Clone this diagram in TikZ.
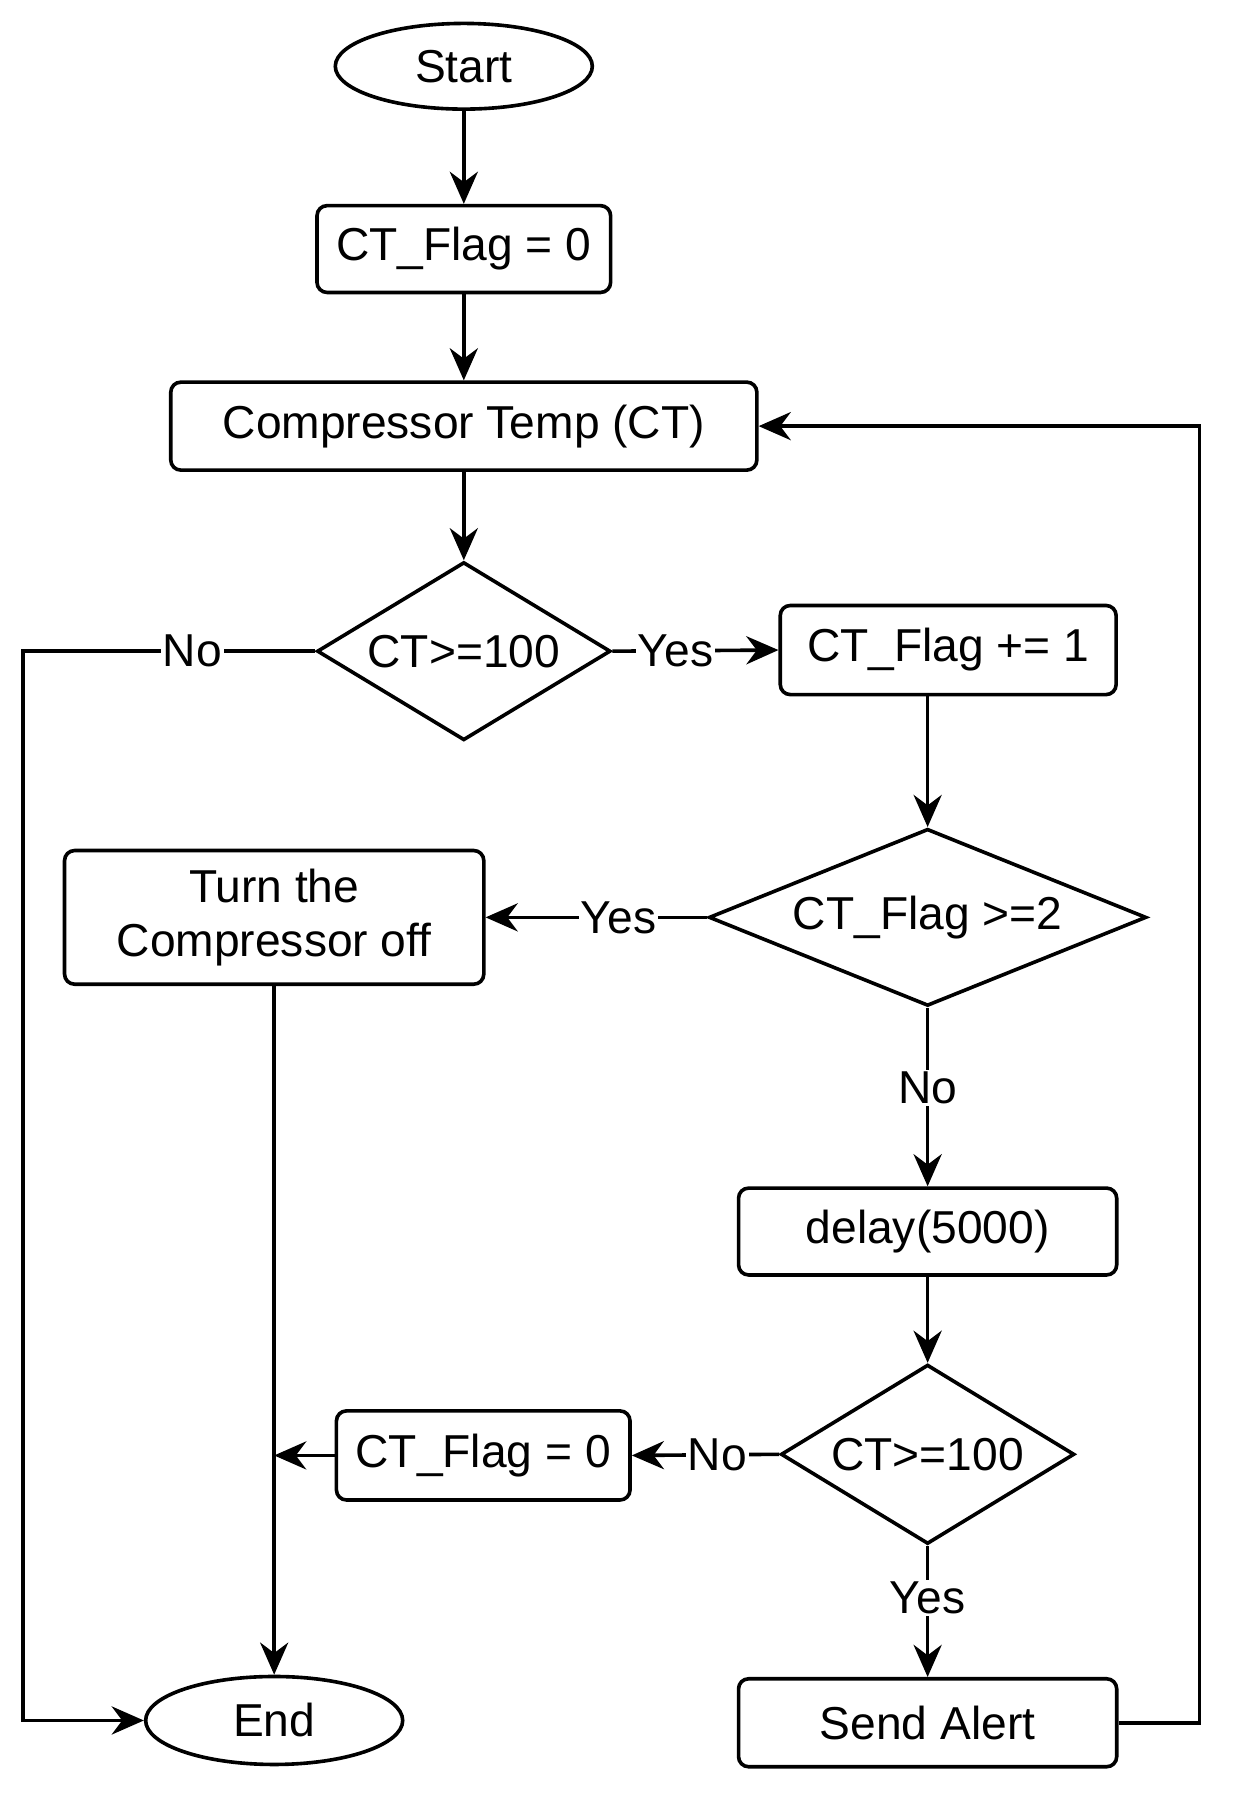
\documentclass[tikz,border=0pt]{standalone}
\usepackage{fontspec}
\setmainfont{Liberation Sans}
\usetikzlibrary{shapes.geometric,arrows.meta}
\begin{document}
\begin{tikzpicture}[x=0.02cm,y=-0.02cm,
  font=\fontsize{23}{27}\selectfont,
  every node/.style={inner sep=0pt},
  box/.style={draw,rounded corners=5pt,line width=1.8pt,align=center},
  dia/.style={draw,diamond,aspect=1.65,line width=1.8pt},
  ell/.style={draw,ellipse,line width=1.8pt},
  lab/.style={fill=white,inner sep=1pt},
  ar/.style={line width=1.8pt,-{Stealth[length=16pt,width=14pt]}},
  ln/.style={line width=1.8pt}]
\useasboundingbox (0,0) rectangle (1080,1587);
\node[ell,minimum width=225*0.02cm,minimum height=75*0.02cm] (start) at (406,58) {Start};
\node[box,minimum width=257*0.02cm,minimum height=76*0.02cm] (f0) at (406,218) {CT\_Flag = 0};
\node[box,minimum width=513*0.02cm,minimum height=77*0.02cm] (ct) at (406,373) {Compressor Temp (CT)};
\node[dia,minimum width=257*0.02cm,minimum height=156*0.02cm] (d1) at (406,570) {};
\node at (406,570) {CT>=100};
\node[box,minimum width=294*0.02cm,minimum height=78*0.02cm] (inc) at (830,569) {CT\_Flag += 1};
\node[dia,minimum width=383*0.02cm,minimum height=155*0.02cm] (d2) at (812,803) {};
\node at (812,803) {CT\_Flag >=2};
\node[box,minimum width=367*0.02cm,minimum height=117*0.02cm] (off) at (240,803) {Turn the\\Compressor off};
\node[box,minimum width=331*0.02cm,minimum height=76*0.02cm] (del) at (812,1078) {delay(5000)};
\node[dia,minimum width=257*0.02cm,minimum height=157*0.02cm] (d3) at (812,1273) {};
\node at (812,1273) {CT>=100};
\node[box,minimum width=257*0.02cm,minimum height=78*0.02cm] (f1) at (423,1274) {CT\_Flag = 0};
\node[box,minimum width=331*0.02cm,minimum height=77*0.02cm] (alert) at (812,1508) {Send Alert};
\node[ell,minimum width=225*0.02cm,minimum height=77*0.02cm] (end) at (240,1506) {End};
\coordinate (lc) at (20,570);
\coordinate (lb) at (20,1506);
\coordinate (rc) at (1050,1508);
\coordinate (rt) at (1050,373);
\coordinate (j) at (240,1274);
\draw[ar] (start) -- (f0);
\draw[ar] (f0) -- (ct);
\draw[ar] (ct) -- (d1);
\draw[ar] (d1.east) -- node[lab,pos=0.38]{Yes} (inc.west);
\draw[ar] (inc.south -| 812,0) -- (d2.north);
\draw[ar] (d2.west) -- node[lab,pos=0.4]{Yes} (off.east);
\draw[ar] (d2.south) -- node[lab,pos=0.45]{No} (del.north);
\draw[ar] (del) -- (d3);
\draw[ar] (d3.west) -- node[lab,pos=0.42]{No} (f1.east);
\draw[ar] (f1.west) -- (j);
\draw[ar] (d3.south) -- node[lab,pos=0.4]{Yes} (alert.north);
\draw[ar] (off.south) -- (end.north);
\draw[ar] (d1.west) -- node[lab,pos=0.42]{No} (lc) -- (lb) -- (end.west);
\draw[ar] (alert.east) -- (rc) -- (rt) -- (ct.east);
\end{tikzpicture}
\end{document}
